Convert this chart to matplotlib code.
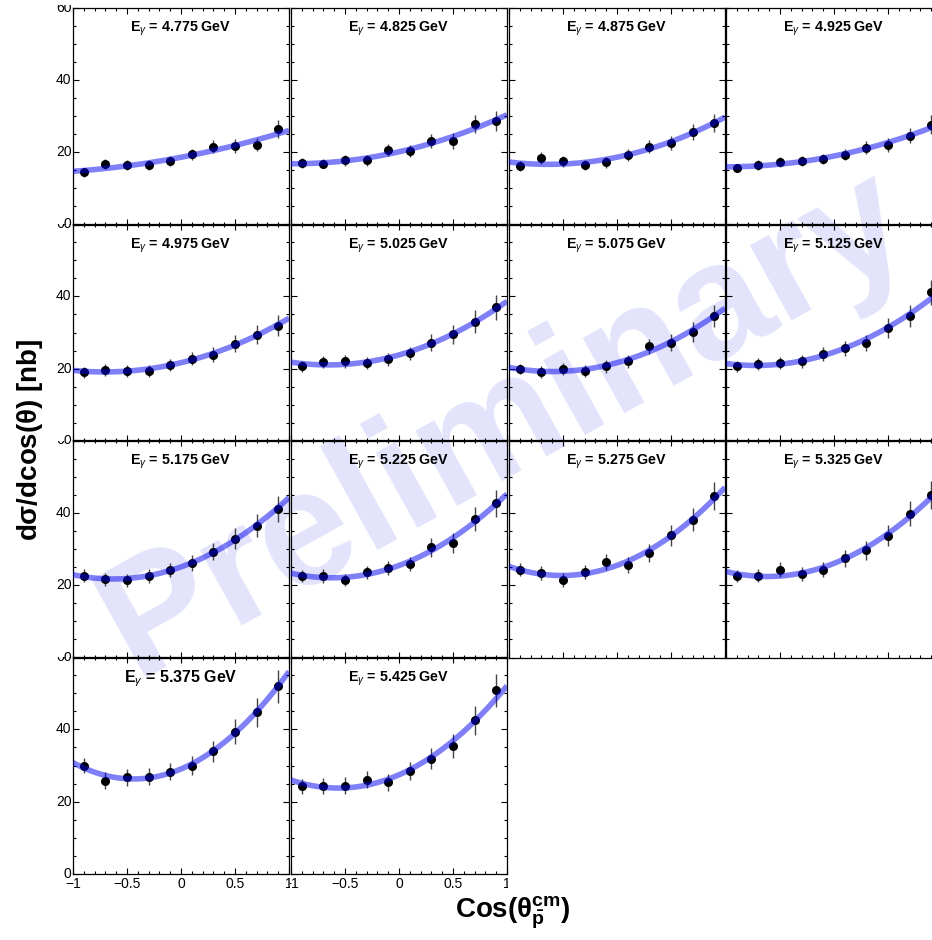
import numpy as np
import matplotlib
matplotlib.use("Agg")
import matplotlib.pyplot as plt
from matplotlib.ticker import MultipleLocator
from matplotlib.transforms import Bbox, TransformedBbox, blended_transform_factory

plt.rcParams['font.family'] = ['Liberation Sans', 'DejaVu Sans']
plt.rcParams['mathtext.fontset'] = 'custom'
plt.rcParams['mathtext.rm'] = 'Liberation Sans'
plt.rcParams['mathtext.it'] = 'Liberation Sans:italic'
plt.rcParams['mathtext.bf'] = 'Liberation Sans:bold'

# ---------- data ----------
energies = ["4.775", "4.825", "4.875", "4.925", "4.975", "5.025", "5.075",
            "5.125", "5.175", "5.225", "5.275", "5.325", "5.375", "5.425"]

cos_bins = [-0.9, -0.7, -0.5, -0.3, -0.1, 0.1, 0.3, 0.5, 0.7, 0.9]

xsec = [
    [14.4, 16.7, 16.4, 16.5, 17.5, 19.4, 21.5, 21.8, 22.1, 26.3],
    [17.0, 16.8, 17.8, 17.7, 20.6, 20.4, 23.1, 23.1, 27.7, 28.6],
    [16.2, 18.4, 17.5, 16.5, 17.2, 19.3, 21.5, 22.6, 25.6, 28.1],
    [15.6, 16.5, 17.2, 17.5, 18.1, 19.3, 21.2, 22.0, 24.6, 27.6],
    [19.0, 19.7, 19.4, 19.4, 21.0, 22.7, 23.9, 26.9, 29.4, 31.9],
    [20.7, 21.9, 22.1, 21.5, 22.6, 24.2, 27.2, 29.5, 33.0, 37.0],
    [19.9, 19.0, 19.9, 19.4, 20.6, 22.1, 26.2, 27.2, 30.2, 34.6],
    [20.6, 21.3, 21.6, 22.1, 24.1, 25.6, 27.2, 31.2, 34.6, 41.1],
    [22.6, 21.7, 21.4, 22.6, 24.2, 26.2, 29.3, 32.9, 36.4, 41.1],
    [22.6, 22.6, 21.4, 23.6, 24.8, 25.9, 30.5, 31.7, 38.3, 42.6],
    [24.3, 23.3, 21.5, 23.6, 26.5, 25.7, 28.8, 33.8, 38.1, 44.6],
    [22.6, 22.6, 24.3, 23.1, 24.3, 27.4, 29.6, 33.7, 39.8, 44.9],
    [30.0, 25.8, 26.7, 26.9, 28.3, 30.0, 33.9, 39.4, 44.7, 51.9],
    [24.2, 24.4, 24.4, 26.1, 25.3, 28.5, 31.9, 35.3, 42.5, 50.8],
]

xsec_err = [
    [1.2, 1.4, 1.4, 1.3, 1.4, 1.5, 1.8, 1.9, 1.9, 2.5],
    [1.3, 1.3, 1.5, 1.4, 1.6, 1.6, 2.0, 2.1, 2.5, 2.8],
    [1.3, 1.7, 1.5, 1.4, 1.6, 1.7, 1.8, 2.0, 2.3, 2.5],
    [1.2, 1.3, 1.4, 1.4, 1.5, 1.6, 1.8, 1.9, 2.2, 2.6],
    [1.5, 1.6, 1.6, 1.6, 1.7, 1.8, 2.0, 2.3, 2.6, 3.0],
    [1.5, 1.6, 1.8, 1.7, 1.8, 1.9, 2.3, 2.7, 3.1, 3.5],
    [1.4, 1.6, 1.6, 1.6, 1.7, 1.8, 2.1, 2.4, 2.7, 3.0],
    [1.6, 1.7, 1.7, 1.8, 2.0, 2.1, 2.2, 2.7, 3.0, 3.5],
    [1.8, 1.8, 1.8, 1.9, 2.0, 2.2, 2.4, 2.8, 3.2, 3.6],
    [1.7, 1.9, 1.7, 1.8, 2.0, 2.0, 2.6, 2.8, 3.3, 3.7],
    [1.8, 1.9, 1.9, 2.0, 2.2, 2.2, 2.5, 2.9, 3.2, 3.8],
    [1.6, 1.8, 2.0, 1.9, 2.0, 2.4, 2.6, 2.9, 3.4, 3.9],
    [2.2, 2.3, 2.3, 2.3, 2.4, 2.6, 3.0, 3.4, 4.0, 4.6],
    [2.2, 2.2, 2.3, 2.4, 2.4, 2.6, 3.0, 3.3, 4.0, 4.6],
]

y_tick_vals = [0, 20, 40, 60]
y_tick_text = ["0", "20", "40", "60"]
x_tick_vals = [-1, -0.5, 0, 0.5, 1]
x_tick_text = ["\u22121", "\u22120.5", "0", "0.5", "1"]

# ---------- layout (pixels) ----------
W, H = 932, 940
col_left = [73, 291, 509, 726]
row_top = [7.5, 224, 440.5, 657]
pw, ph = 216, 217

fig = plt.figure(figsize=(W / 100, H / 100), dpi=100)


def fx(px):
    return px / W


def fy(py):
    return 1 - py / H


def clip_box(x0, y0, x1, y1):
    bb = Bbox.from_extents(fx(x0), fy(y1), fx(x1), fy(y0))
    return TransformedBbox(bb, fig.transFigure)


# watermark behind everything
fig.text(fx(505), fy(425), "Preliminary", rotation=29, ha="center", va="center",
         rotation_mode="anchor", fontsize=118, fontweight="bold",
         color="#e3e3fb", zorder=-5)

for i, e in enumerate(energies):
    r, c = divmod(i, 4)
    l, t = col_left[c], row_top[r]
    ax = fig.add_axes([fx(l), fy(t + ph), fx(pw), ph / H])
    ax.set_facecolor("none")
    x = np.array(cos_bins)
    y = np.array(xsec[i])
    err = np.array(xsec_err[i])

    ax.errorbar(x, y, yerr=err, fmt="o", color="black", ms=5.5,
                ecolor="#444444", elinewidth=1.0, capsize=0, zorder=3)
    coef = np.polyfit(x, y, 2, w=1 / err)
    xx = np.linspace(-1, 1, 200)
    ax.plot(xx, np.polyval(coef, xx), color="#0000f0", alpha=0.5, lw=4,
            solid_capstyle="butt", zorder=4)

    ax.set_xlim(-1, 1)
    ax.set_ylim(0, 60)
    ax.xaxis.set_major_locator(MultipleLocator(0.5))
    ax.xaxis.set_minor_locator(MultipleLocator(0.1))
    ax.yaxis.set_major_locator(MultipleLocator(20))
    ax.yaxis.set_minor_locator(MultipleLocator(5))
    ax.tick_params(which="both", direction="in", top=True, right=True,
                   labelleft=False, labelbottom=False, width=0.8)
    ax.tick_params(which="major", length=4.5)
    ax.tick_params(which="minor", length=2.2)
    for s in ax.spines.values():
        s.set_linewidth(0.9)

    fs = 11.5 if i == 12 else 10.3
    ax.text(0.5, 0.9, r"E$_{\gamma}$ = " + e + " GeV", transform=ax.transAxes,
            ha="center", va="center", fontsize=fs, fontweight="bold")

    # y labels on first column, clipped to the pad like ROOT does
    if c == 0:
        top = t if r > 0 else 5
        bot = t + ph if r < 3 else H
        tr = blended_transform_factory(fig.transFigure, ax.transData)
        for v, s in zip(y_tick_vals, y_tick_text):
            txt = fig.text(fx(l - 1.5), v, s, transform=tr, ha="right",
                           va="center", fontsize=10)
            txt.set_clip_box(clip_box(0, top, l + pw, bot))
            txt.set_clip_on(True)

    # x labels on the bottom row
    if r == 3:
        left_edge = 0 if c == 0 else l - 1
        tr = blended_transform_factory(ax.transData, fig.transFigure)
        for v, s in zip(x_tick_vals, x_tick_text):
            txt = fig.text(v, fy(t + ph + 3), s, transform=tr, ha="center",
                           va="top", fontsize=10)
            txt.set_clip_box(clip_box(left_edge, t, l + pw + 1, H))
            txt.set_clip_on(True)

fig.text(fx(30), fy(440), r"d$\mathbf{\sigma}$/dcos($\mathbf{\theta}$) [nb]",
         rotation=90, ha="center", va="center", fontsize=20, fontweight="bold")
fig.text(fx(513), fy(913), r"Cos($\mathbf{\theta^{cm}_{\bar{p}}}$)",
         ha="center", va="center", fontsize=20, fontweight="bold")

fig.savefig("out.png", dpi=100)
